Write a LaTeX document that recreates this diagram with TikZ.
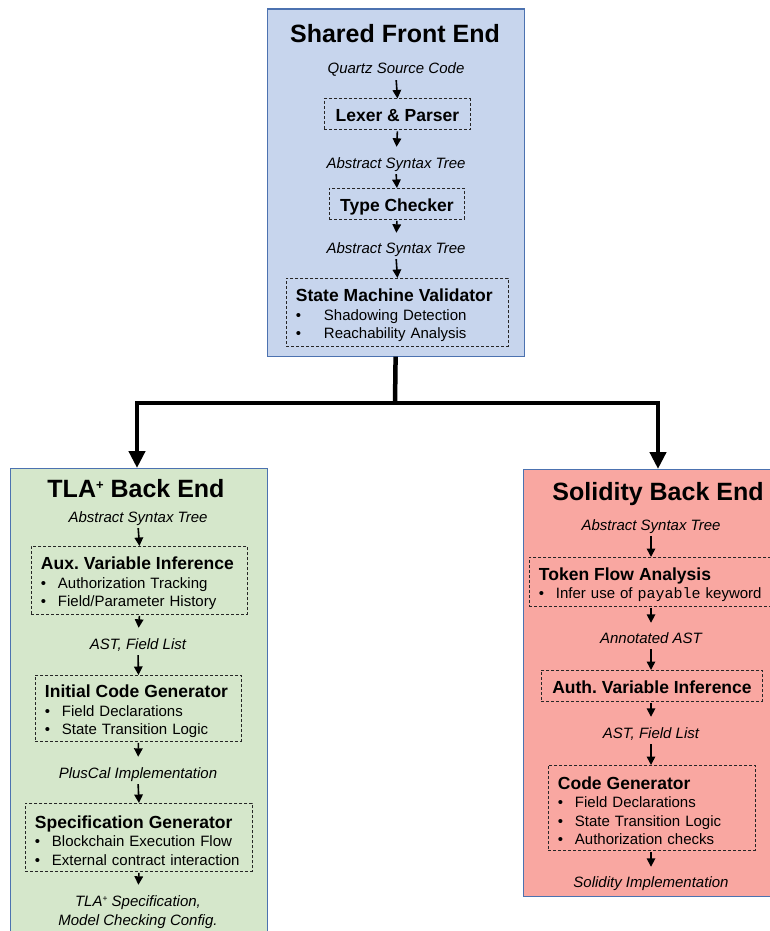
\documentclass[tikz,border=0pt]{standalone}
\usepackage{fontspec}
\setmainfont{Liberation Sans}
\setmonofont{Liberation Mono}
\usetikzlibrary{arrows.meta,calc}
\frenchspacing
\definecolor{frontfill}{RGB}{199,213,237}
\definecolor{tlafill}{RGB}{213,231,203}
\definecolor{solfill}{RGB}{249,167,161}
\definecolor{contborder}{RGB}{76,114,176}
\tikzset{
  container/.style={draw=contborder,line width=1.2pt,anchor=north west,inner sep=0pt},
  bigtitle/.style={anchor=base,inner sep=0pt,font=\fontsize{25}{28}\selectfont\bfseries},
  lbl/.style={anchor=base,inner sep=0pt,text height=11pt,text depth=3pt,font=\fontsize{15}{18}\selectfont\itshape},
  procbox/.style={draw=black!85,line width=0.9pt,dash pattern=on 3pt off 2pt,anchor=north west,inner xsep=9.5pt,inner ysep=0pt},
  onebox/.style={procbox,text height=15pt,text depth=0pt,font=\fontsize{17.5}{18.5}\selectfont\bfseries},
  multibox/.style={procbox,align=left,font=\fontsize{15}{18.5}\selectfont},
  smallarr/.style={line width=1.6pt,-{Triangle[length=8.5pt,width=8.5pt]}},
  bigline/.style={line width=4.5pt},
  bigarr/.style={line width=4.5pt,-{Triangle[length=17pt,width=16pt]}},
}
\newcommand{\bxtitle}[1]{{\fontsize{17.5}{18.5}\selectfont\bfseries\rule{0pt}{18.5pt}#1}}
\newcommand{\bitem}[1]{\makebox[17pt][l]{•}#1}
\newcommand{\bitemw}[1]{\makebox[28pt][l]{•}#1}
\newcommand{\bigplus}{\raisebox{7.5pt}{\fontsize{13}{13}\selectfont\bfseries +}}
\newcommand{\smallplus}{\raisebox{4.5pt}{\fontsize{8.5}{8.5}\selectfont\upshape +}}
\begin{document}
\begin{tikzpicture}[x=1pt,y=-1pt]
\useasboundingbox (0,0) rectangle (769,931);
% containers
\node[container,fill=frontfill,minimum width=257pt,minimum height=347pt] (front) at (266.5,8.5) {};
\node[container,fill=tlafill,minimum width=257pt,minimum height=480pt] (tla) at (10,468) {};
\node[container,fill=solfill,minimum width=260pt,minimum height=427pt] (sol) at (523,469) {};

% ---------- Shared front end ----------
\node[bigtitle] (ftitle) at (395,43) {Shared Front End};
\node[lbl] (quartz) at (396,74) {Quartz Source Code};
\node[onebox,minimum width=146pt,minimum height=31pt] (lexer) at (324,98.5) {Lexer \& Parser};
\node[lbl] (ast1) at (396,168) {Abstract Syntax Tree};
\node[onebox,minimum width=135pt,minimum height=31pt] (typeck) at (329,188) {Type Checker};
\node[lbl] (ast2) at (396,253) {Abstract Syntax Tree};
\node[multibox,minimum width=222pt,minimum height=68pt,text width=203pt] (smv) at (286,278)
  {\bxtitle{State Machine Validator}\\ \bitemw{Shadowing Detection}\\ \bitemw{Reachability Analysis}};

\draw[smallarr,shorten <=3pt] (quartz.south) -- (lexer.north);
\draw[smallarr,shorten <=1pt,shorten >=10pt] (lexer.south) -- (ast1.north);
\draw[smallarr,shorten <=3pt] (ast1.south) -- (typeck.north);
\draw[smallarr,shorten <=1pt,shorten >=9pt] (typeck.south) -- (ast2.north);
\draw[smallarr,shorten <=3pt] (ast2.south) -- (smv.north);

% ---------- TLA+ back end ----------
\node[bigtitle] (ttitle) at (136,497) {TLA\bigplus\ Back End};
\node[lbl] (tast) at (138,522) {Abstract Syntax Tree};
\node[multibox,minimum width=216pt,minimum height=68pt,text width=197pt] (aux) at (31,546)
  {\bxtitle{Aux. Variable Inference}\\ \bitem{Authorization Tracking}\\ \bitem{Field/Parameter History}};
\node[lbl] (tfl) at (138,649) {AST, Field List};
\node[multibox,minimum width=206pt,minimum height=66pt,text width=187pt] (icg) at (35,675)
  {\bxtitle{Initial Code Generator}\\ \bitem{Field Declarations}\\ \bitem{State Transition Logic}};
\node[lbl] (plus) at (138,778) {PlusCal Implementation};
\node[multibox,minimum width=227pt,minimum height=68pt,text width=208pt] (spec) at (25,803)
  {\bxtitle{Specification Generator}\\ \bitem{Blockchain Execution Flow}\\ \bitem{External contract interaction}};
\node[lbl] (tout1) at (138,906) {TLA\smallplus\ Specification,};
\node[lbl] (tout2) at (138,925) {Model Checking Config.};

\draw[smallarr,shorten <=3pt] (tast.south) -- (aux.north);
\draw[smallarr,shorten <=1pt,shorten >=10pt] (aux.south) -- (tfl.north);
\draw[smallarr,shorten <=3pt] (tfl.south) -- (icg.north);
\draw[smallarr,shorten <=1pt,shorten >=10pt] (icg.south) -- (plus.north);
\draw[smallarr,shorten <=3pt] (plus.south) -- (spec.north);
\draw[smallarr,shorten <=1pt,shorten >=10pt] (spec.south) -- (tout1.north);

% ---------- Solidity back end ----------
\node[bigtitle] (stitle) at (658,500) {Solidity Back End};
\node[lbl] (sast) at (651,530) {Abstract Syntax Tree};
\node[multibox,minimum width=244pt,minimum height=49pt,text width=225pt] (token) at (529,557)
  {\bxtitle{Token Flow Analysis}\\ \bitem{Infer use of \texttt{payable} keyword}};
\node[lbl] (annot) at (651,643) {Annotated AST};
\node[onebox,minimum width=221pt,minimum height=31pt] (auth) at (541,670) {Auth. Variable Inference};
\node[lbl] (sfl) at (651,738) {AST, Field List};
\node[multibox,minimum width=207pt,minimum height=85pt,text width=188pt] (cg) at (548,765)
  {\bxtitle{Code Generator}\\ \bitem{Field Declarations}\\ \bitem{State Transition Logic}\\ \bitem{Authorization checks}};
\node[lbl] (simpl) at (651,887) {Solidity Implementation};

\draw[smallarr,shorten <=3pt] (sast.south) -- (sast.south |- token.north);
\draw[smallarr,shorten <=1pt,shorten >=9pt] (token.south -| annot) -- (annot.north);
\draw[smallarr,shorten <=3pt] (annot.south) -- (annot.south |- auth.north);
\draw[smallarr,shorten <=1pt,shorten >=10pt] (auth.south -| sfl) -- (sfl.north);
\draw[smallarr,shorten <=3pt] (sfl.south) -- (sfl.south |- cg.north);
\draw[smallarr,shorten <=1pt,shorten >=9pt] (cg.south -| simpl) -- (simpl.north);

% ---------- split connector ----------
\coordinate (split) at (395,403);
\draw[bigline] (front.south) -- (split);
\draw[bigarr] (split) -| ([xshift=127pt]tla.north west);
\draw[bigarr] (split) -| ([xshift=135pt]sol.north west);
\end{tikzpicture}
\end{document}
